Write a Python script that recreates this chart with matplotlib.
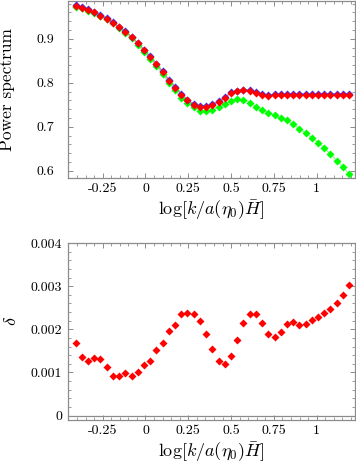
import numpy as np
import matplotlib
matplotlib.use('Agg')
import matplotlib.pyplot as plt
from matplotlib.ticker import MultipleLocator

plt.rcParams['font.family'] = 'serif'
plt.rcParams['font.serif'] = ['cmr10']
plt.rcParams['mathtext.fontset'] = 'cm'
plt.rcParams['axes.unicode_minus'] = False
plt.rcParams['axes.formatter.use_mathtext'] = True

# log[k / a(eta0) H] sample points
logk = [-0.408, -0.372, -0.335, -0.299, -0.263, -0.226, -0.190, -0.154, -0.118,
        -0.081, -0.045, -0.009, 0.028, 0.064, 0.100, 0.137, 0.173, 0.209, 0.245,
        0.282, 0.318, 0.354, 0.391, 0.427, 0.463, 0.500, 0.536, 0.572, 0.608,
        0.645, 0.681, 0.717, 0.754, 0.790, 0.826, 0.863, 0.899, 0.935, 0.971,
        1.008, 1.044, 1.080, 1.117, 1.153, 1.189]

ps_red = [0.975, 0.971, 0.966, 0.960, 0.953, 0.946, 0.937, 0.927, 0.916, 0.904,
          0.890, 0.874, 0.859, 0.842, 0.825, 0.805, 0.789, 0.773, 0.760, 0.750,
          0.746, 0.746, 0.750, 0.757, 0.766, 0.777, 0.781, 0.783, 0.781, 0.777,
          0.772, 0.771, 0.772, 0.773, 0.773, 0.773, 0.773, 0.773, 0.773, 0.773,
          0.773, 0.773, 0.773, 0.773, 0.773]

ps_blue = [0.9766, 0.9723, 0.9672, 0.9613, 0.9543, 0.9471, 0.9379, 0.9279, 0.9169,
           0.9048, 0.8909, 0.8750, 0.8601, 0.8433, 0.8264, 0.8066, 0.7907, 0.7748,
           0.7618, 0.7518, 0.7476, 0.7474, 0.7512, 0.7580, 0.7669, 0.7781, 0.7824,
           0.7847, 0.7828, 0.7788, 0.7737, 0.7725, 0.7734, 0.7745, 0.7746, 0.7747,
           0.7746, 0.7746, 0.7747, 0.7748, 0.7748, 0.7749, 0.7750, 0.7752, 0.7753]

ps_green = [0.973, 0.969, 0.964, 0.958, 0.951, 0.944, 0.935, 0.925, 0.913, 0.901,
            0.886, 0.870, 0.855, 0.839, 0.820, 0.800, 0.784, 0.766, 0.753, 0.744,
            0.736, 0.736, 0.739, 0.745, 0.752, 0.759, 0.762, 0.761, 0.755, 0.745,
            0.737, 0.732, 0.726, 0.720, 0.715, 0.706, 0.696, 0.686, 0.675, 0.664,
            0.652, 0.638, 0.623, 0.609, 0.592]

delta = [1.68, 1.355, 1.27, 1.33, 1.32, 1.12, 0.92, 0.92, 0.99, 0.93, 1.02, 1.18,
         1.26, 1.52, 1.68, 1.96, 2.11, 2.35, 2.38, 2.35, 2.20, 1.89, 1.54, 1.27,
         1.20, 1.39, 1.75, 2.14, 2.36, 2.36, 2.14, 1.90, 1.82, 1.94, 2.12, 2.16,
         2.11, 2.12, 2.21, 2.29, 2.37, 2.47, 2.61, 2.79, 3.02]
delta = np.array(delta) * 1e-3

xticks = [-0.25, 0, 0.25, 0.5, 0.75, 1]
xticklabels = ['-0.25', '0', '0.25', '0.5', '0.75', '1']

frame = '#8c8c8c'


def style(ax):
    for s in ax.spines.values():
        s.set_color(frame)
        s.set_linewidth(0.9)
    ax.tick_params(which='both', direction='in', top=True, right=True,
                   color=frame, labelsize=10)
    ax.tick_params(which='major', length=3.5, width=0.7)
    ax.tick_params(which='minor', length=2, width=0.6)
    ax.set_xlim(-0.4527, 1.2237)
    ax.set_xticks(xticks)
    ax.set_xticklabels(xticklabels)
    ax.xaxis.set_minor_locator(MultipleLocator(0.05))
    ax.set_xlabel(r'$\log[k/a(\eta_0)\bar{H}]$', fontsize=13, labelpad=2)


fig = plt.figure(figsize=(3.56, 4.63), dpi=100)

ax1 = fig.add_axes([0.191, 0.6156, 0.806, 0.3822])
ax1.plot(logk, ps_green, '-', color='#7fff7f', lw=0.8, zorder=1)
ax1.plot(logk, ps_blue, '-', color='#8080ff', lw=0.8, zorder=1)
ax1.plot(logk, ps_red, '-', color='#ff8080', lw=0.8, zorder=1)
ax1.plot(logk, ps_green, 'D', color='#00ff00', ms=4.2, mec='none', zorder=2)
ax1.plot(logk, ps_blue, 'D', color='#3030ff', ms=4.4, mec='none', zorder=3)
ax1.plot(logk, ps_red, 'D', color='#ff0000', ms=4.2, mec='none', zorder=4)
ax1.set_ylim(0.5835, 0.986)
ax1.set_yticks([0.6, 0.7, 0.8, 0.9])
ax1.set_yticklabels(['0.6', '0.7', '0.8', '0.9'])
ax1.yaxis.set_minor_locator(MultipleLocator(0.02))
style(ax1)
ax1.tick_params(axis='y', which='major', pad=10)
ax1.set_ylabel('Power spectrum', fontsize=12.5)
ax1.yaxis.set_label_coords(-0.183, 0.5)

ax2 = fig.add_axes([0.191, 0.0929, 0.806, 0.3823])
ax2.axhline(0, color=frame, lw=0.9, zorder=1)
ax2.plot(logk, delta, 'D', color='#ff0000', ms=4.2, mec='none', zorder=3)
ax2.set_ylim(-0.0001, 0.004)
ax2.set_yticks([0, 0.001, 0.002, 0.003, 0.004])
ax2.set_yticklabels(['0', '0.001', '0.002', '0.003', '0.004'])
ax2.yaxis.set_minor_locator(MultipleLocator(0.0002))
style(ax2)
ax2.tick_params(axis='y', which='major', pad=4)
ax2.set_ylabel(r'$\delta$', fontsize=13)
ax2.yaxis.set_label_coords(-0.172, 0.56)

fig.savefig('out.png', dpi=100)
